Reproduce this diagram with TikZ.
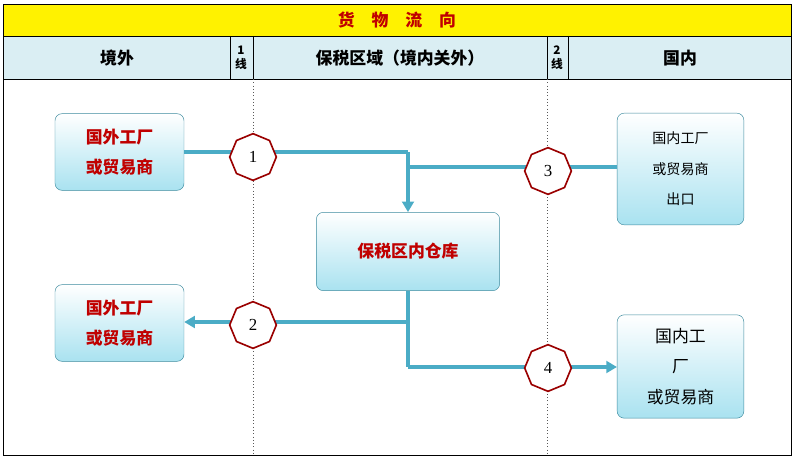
\documentclass[tikz,border=0pt]{standalone}
\usepackage{fontspec}
\setmainfont{Noto Sans CJK SC}
\newfontfamily\numfont{Liberation Serif}
\usetikzlibrary{shapes.geometric,arrows.meta}
\definecolor{flow}{HTML}{4BACC6}
\definecolor{head}{HTML}{DAEEF3}
\definecolor{boxbot}{HTML}{A9E2F0}
\definecolor{txtred}{HTML}{C00000}
\tikzset{
  site/.style={draw=flow!80!black, rounded corners=6pt, top color=white, bottom color=boxbot, minimum width=3.87cm, align=center, font=\Large, execute at begin node=\setlength{\baselineskip}{26pt}},
  gate/.style={draw=txtred!80!black, line width=1.4pt, fill=white, regular polygon, regular polygon sides=8, shape border rotate=22.5, minimum size=1.4cm, inner sep=0pt, font=\Large\numfont},
  flowline/.style={draw=flow, line width=3pt},
  border/.style={dotted, thick, gray!70!black}
}
\begin{document}
\begin{tikzpicture}[x=0.03cm, y=-0.03cm]
\useasboundingbox (0,0) rectangle (794,459);
% frame and header
\draw[fill=yellow, thick] (3,4) rectangle (791,36);
\node (title) at (397,20) {\color{txtred}\bfseries\Large 货\quad 物\quad 流\quad 向};
\draw[fill=head, thick] (3,36) rectangle (791,79);
\draw[thick] (3,79) rectangle (791,455);
\foreach \x in {230,253,547,568} \draw[thick] (\x,36) -- (\x,79);
\node (hout) at (117,58) {\bfseries\Large 境外};
\node[align=center, inner sep=0pt, font=\normalsize\bfseries] (hl1) at (241,58) {1\\线};
\node (hzone) at (400,58) {\bfseries\Large 保税区域（境内关外）};
\node[align=center, inner sep=0pt, font=\normalsize\bfseries] (hl2) at (557,58) {2\\线};
\node (hin) at (680,58) {\bfseries\Large 国内};
\draw[border] (253,79) -- (253,455);
\draw[border] (547,79) -- (547,455);
% sites
\node[site, minimum height=2.3cm, text=txtred, font=\Large\bfseries] (srcout) at (119.5,152) {国外工厂\\或贸易商};
\node[site, minimum height=2.3cm, text=txtred, font=\Large\bfseries] (dstout) at (119.5,323) {国外工厂\\或贸易商};
\node[site, minimum width=5.5cm, minimum height=2.35cm, text=txtred, font=\Large\bfseries] (store) at (408,251.5) {保税区内仓库};
\node[site, minimum width=3.8cm, minimum height=3.35cm, font=\large] (srcin) at (680.5,169) {国内工厂\\或贸易商\\出口};
\node[site, minimum width=3.8cm, minimum height=3.1cm] (dstin) at (680.5,366.5) {国内工\\厂\\或贸易商};
% flows
\coordinate (j1) at (408,152);
\coordinate (j3) at (408,167);
\coordinate (j2) at (408,322);
\coordinate (j4) at (408,367);
\draw[flowline] (srcout.east |- j1) -- (j1);
\draw[flowline, -{Triangle[length=9pt,width=10pt]}] (j1) -- (store.north);
\draw[flowline] (srcin.west |- j3) -- (j3);
\draw[flowline] (store.south) -- (j2) -- (j4);
\draw[flowline, -{Triangle[length=9pt,width=10pt]}] (j2) -- (dstout.east |- j2);
\draw[flowline, -{Triangle[length=9pt,width=10pt]}] (j4) -- (dstin.west |- j4);
% gates
\node[gate] (g1) at (253,157) {1};
\node[gate] (g2) at (253,325) {2};
\node[gate] (g3) at (548,171) {3};
\node[gate] (g4) at (548,368) {4};
\end{tikzpicture}
\end{document}
